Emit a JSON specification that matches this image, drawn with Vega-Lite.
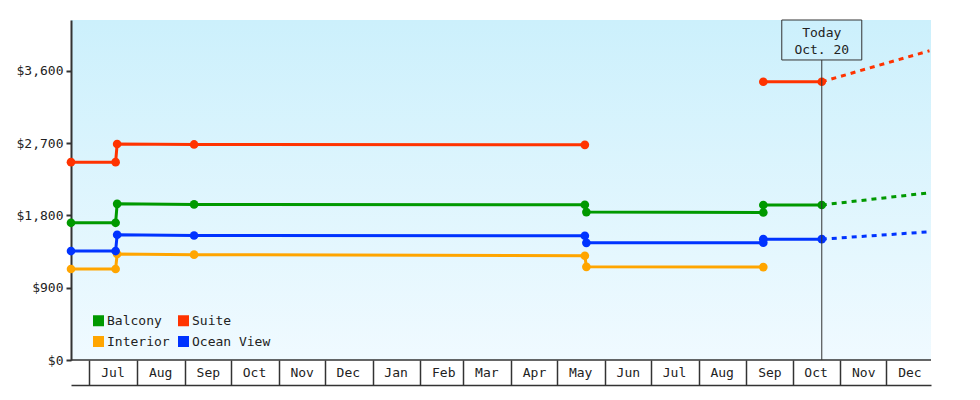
{
  "$schema": "https://vega.github.io/schema/vega-lite/v6.json",
  "width": 860,
  "height": 340,
  "autosize": {"type": "none"},
  "padding": {"left": 71, "top": 20, "right": 49, "bottom": 40},
  "background": "white",
  "config": {
    "view": {"stroke": null, "fill": {"gradient": "linear", "x1": 0, "y1": 0, "x2": 0, "y2": 1, "stops": [{"offset": 0, "color": "#ccf0fc"}, {"offset": 1, "color": "#f0faff"}]}},
    "font": "DejaVu Sans Mono",
    "axis": {"labelFont": "DejaVu Sans Mono", "labelFontSize": 13, "labelColor": "#222", "grid": false, "title": null, "domainColor": "#333", "tickColor": "#333"},
    "legend": {"labelFont": "DejaVu Sans Mono", "labelFontSize": 13, "labelColor": "#222"}
  },
  "datasets": {
    "prices": [
      {"cabin": "Suite", "seg": "S1", "i": 1, "date": "2022-06-19", "price": 2464},
      {"cabin": "Suite", "seg": "S1", "i": 2, "date": "2022-07-18", "price": 2464},
      {"cabin": "Suite", "seg": "S1", "i": 3, "date": "2022-07-19", "price": 2691},
      {"cabin": "Suite", "seg": "S1", "i": 4, "date": "2022-09-07", "price": 2685},
      {"cabin": "Suite", "seg": "S1", "i": 5, "date": "2023-05-19", "price": 2680},
      {"cabin": "Suite", "seg": "S2", "i": 6, "date": "2023-09-12", "price": 3466},
      {"cabin": "Suite", "seg": "S2", "i": 7, "date": "2023-10-20", "price": 3466},
      {"cabin": "Balcony", "seg": "B", "i": 1, "date": "2022-06-19", "price": 1709},
      {"cabin": "Balcony", "seg": "B", "i": 2, "date": "2022-07-18", "price": 1709},
      {"cabin": "Balcony", "seg": "B", "i": 3, "date": "2022-07-19", "price": 1945},
      {"cabin": "Balcony", "seg": "B", "i": 4, "date": "2022-09-07", "price": 1938},
      {"cabin": "Balcony", "seg": "B", "i": 5, "date": "2023-05-19", "price": 1933},
      {"cabin": "Balcony", "seg": "B", "i": 6, "date": "2023-05-20", "price": 1842},
      {"cabin": "Balcony", "seg": "B", "i": 7, "date": "2023-09-12", "price": 1837},
      {"cabin": "Balcony", "seg": "B", "i": 8, "date": "2023-09-12", "price": 1931},
      {"cabin": "Balcony", "seg": "B", "i": 9, "date": "2023-10-20", "price": 1931},
      {"cabin": "Interior", "seg": "I", "i": 1, "date": "2022-06-19", "price": 1134},
      {"cabin": "Interior", "seg": "I", "i": 2, "date": "2022-07-18", "price": 1134},
      {"cabin": "Interior", "seg": "I", "i": 3, "date": "2022-07-19", "price": 1320},
      {"cabin": "Interior", "seg": "I", "i": 4, "date": "2022-09-07", "price": 1312},
      {"cabin": "Interior", "seg": "I", "i": 5, "date": "2023-05-19", "price": 1299},
      {"cabin": "Interior", "seg": "I", "i": 6, "date": "2023-05-20", "price": 1160},
      {"cabin": "Interior", "seg": "I", "i": 7, "date": "2023-09-12", "price": 1157},
      {"cabin": "Ocean View", "seg": "O", "i": 1, "date": "2022-06-19", "price": 1357},
      {"cabin": "Ocean View", "seg": "O", "i": 2, "date": "2022-07-18", "price": 1357},
      {"cabin": "Ocean View", "seg": "O", "i": 3, "date": "2022-07-19", "price": 1560},
      {"cabin": "Ocean View", "seg": "O", "i": 4, "date": "2022-09-07", "price": 1551},
      {"cabin": "Ocean View", "seg": "O", "i": 5, "date": "2023-05-19", "price": 1548},
      {"cabin": "Ocean View", "seg": "O", "i": 6, "date": "2023-05-20", "price": 1459},
      {"cabin": "Ocean View", "seg": "O", "i": 7, "date": "2023-09-12", "price": 1460},
      {"cabin": "Ocean View", "seg": "O", "i": 8, "date": "2023-09-12", "price": 1505},
      {"cabin": "Ocean View", "seg": "O", "i": 9, "date": "2023-10-20", "price": 1505}
    ],
    "proj": [
      {"cabin": "Suite", "date": "2023-10-20", "price": 3466},
      {"cabin": "Suite", "date": "2023-12-29", "price": 3852},
      {"cabin": "Balcony", "date": "2023-10-20", "price": 1931},
      {"cabin": "Balcony", "date": "2023-12-29", "price": 2083},
      {"cabin": "Ocean View", "date": "2023-10-20", "price": 1505},
      {"cabin": "Ocean View", "date": "2023-12-29", "price": 1597}
    ]
  },
  "layer": [
    {
      "data": {"name": "prices"},
      "mark": {"type": "line", "strokeWidth": 3},
      "encoding": {
        "x": {
          "field": "date", "type": "temporal",
          "scale": {"type": "utc", "domain": [{"year": 2022, "month": 6, "date": 19, "utc": true}, {"year": 2023, "month": 12, "date": 30, "utc": true}]},
          "axis": {"format": "%b", "tickCount": {"interval": "month", "step": 1}, "offset": 25, "tickSize": -25, "tickWidth": 1.5, "domainWidth": 1.5, "labelAlign": "center", "labelOffset": 23, "labelBaseline": "middle", "labelPadding": 12, "labelFlush": false, "labelOverlap": false, "labelBound": false}
        },
        "y": {
          "field": "price", "type": "quantitative",
          "scale": {"domain": [0, 4235], "nice": false, "zero": true},
          "axis": {"values": [0, 900, 1800, 2700, 3600], "format": "$,.0f", "tickSize": 5, "tickWidth": 2, "domainWidth": 2, "labelPadding": 3}
        },
        "color": {
          "field": "cabin", "type": "nominal",
          "scale": {"domain": ["Balcony", "Suite", "Interior", "Ocean View"], "range": ["#009900", "#ff3300", "#ffa500", "#0033ff"]},
          "legend": {"title": null, "orient": "none", "legendX": 21, "legendY": 294, "columns": 2, "direction": "horizontal", "symbolType": "square", "symbolSize": 121, "symbolStrokeWidth": 0, "symbolFillColor": null, "symbolOpacity": 1, "labelOffset": 2, "columnPadding": 7, "rowPadding": 7, "padding": 0}
        },
        "detail": {"field": "seg"},
        "order": {"field": "i"}
      }
    },
    {
      "data": {"name": "proj"},
      "mark": {"type": "line", "strokeWidth": 3, "strokeDash": [5, 5]},
      "encoding": {
        "x": {"field": "date", "type": "temporal"},
        "y": {"field": "price", "type": "quantitative"},
        "color": {"field": "cabin", "type": "nominal"}
      }
    },
    {
      "data": {"name": "prices"},
      "mark": {"type": "point", "filled": true, "opacity": 1, "shape": "circle", "size": 75},
      "encoding": {
        "x": {"field": "date", "type": "temporal"},
        "y": {"field": "price", "type": "quantitative"},
        "color": {"field": "cabin", "type": "nominal"}
      }
    },
    {
      "data": {"values": [{"event": "Today", "date": "2023-10-20", "label": "Today\nOct. 20"}]},
      "layer": [
        {
          "mark": {"type": "rule", "color": "#333", "strokeWidth": 1},
          "encoding": {
            "x": {"field": "date", "type": "temporal"},
            "y": {"datum": 3737},
            "y2": {"datum": 0}
          }
        },
        {
          "mark": {"type": "rect", "fill": "transparent", "stroke": "#333", "strokeWidth": 1},
          "encoding": {
            "x": {"datum": {"year": 2023, "month": 9, "date": 24, "utc": true}},
            "x2": {"datum": {"year": 2023, "month": 11, "date": 15, "utc": true}},
            "y": {"datum": 4235},
            "y2": {"datum": 3737}
          }
        },
        {
          "mark": {"type": "text", "lineBreak": "\n", "lineHeight": 17, "fontSize": 13, "font": "DejaVu Sans Mono", "color": "#222", "align": "center", "baseline": "middle"},
          "encoding": {
            "x": {"field": "date", "type": "temporal"},
            "y": {"datum": 4073},
            "text": {"field": "label"}
          }
        },
        {
          "mark": {"type": "rule", "color": "#333", "strokeWidth": 1.5},
          "encoding": {
            "y": {"datum": 0}
          }
        }
      ]
    }
  ]
}
